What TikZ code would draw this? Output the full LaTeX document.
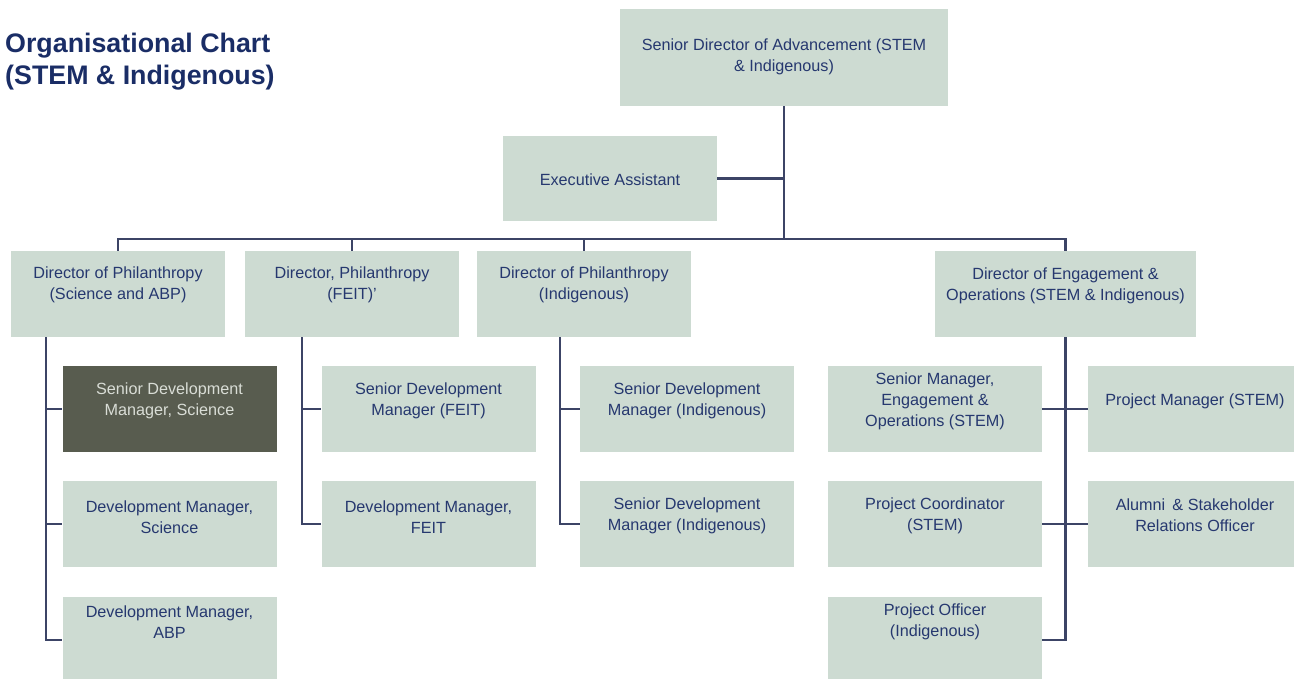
\documentclass[tikz,border=0pt]{standalone}
\usepackage{fontspec}
\setmainfont{Liberation Sans}
\usetikzlibrary{calc}
\definecolor{boxfill}{HTML}{CDDBD2}
\definecolor{darkfill}{HTML}{585C4F}
\definecolor{darktxt}{HTML}{D9DDD6}
\definecolor{txtblue}{HTML}{26386F}
\definecolor{titleblue}{HTML}{1A2D66}
\definecolor{linec}{HTML}{3C4466}
\tikzset{
  box/.style={draw=none, fill=boxfill, minimum width=#1, minimum height=86pt, inner sep=0pt},
  box/.default=214pt,
  darkbox/.style={box, fill=darkfill},
  txt/.style={text=txtblue, font=\fontsize{16.2}{21}\selectfont, align=center, inner sep=0pt},
  darktext/.style={txt, text=darktxt},
  conn/.style={draw=linec, line width=2.2pt},
}
\begin{document}
\begin{tikzpicture}[x=1pt,y=-1pt]
\useasboundingbox[fill=white] (0,0) rectangle (1294,678);

% title
\node[anchor=north west, inner sep=0pt, align=left, text=titleblue,
      font=\fontsize{26.8}{32}\selectfont\bfseries] (title) at (5,32.5)
      {Organisational Chart\\(STEM \& Indigenous)};

% top level
\node[box=328pt, minimum height=97pt] (sda) at (784,57.5) {};
\node[txt] (sdat) at (784,57) {Senior Director of Advancement (STEM\\\& Indigenous)};
\node[box, minimum height=85pt] (ea) at (610,178.5) {};
\node[txt] (eat) at (610,180) {Executive Assistant};

% directors
\node[box] (d1) at (118,294) {};
\node[txt] (d1t) at (118,284.5) {Director of Philanthropy\\(Science and ABP)};
\node[box] (d2) at (352,294) {};
\node[txt] (d2t) at (352,284.5) {Director, Philanthropy\\(FEIT)'};
\node[box] (d3) at (584,294) {};
\node[txt] (d3t) at (584,284.5) {Director of Philanthropy\\(Indigenous)};
\node[box=261pt] (d4) at (1065.5,294) {};
\node[txt] (d4t) at (1065.5,285.5) {Director of Engagement \&\\Operations (STEM \& Indigenous)};

% column 1
\node[darkbox] (c1a) at (169.5,409) {};
\node[darktext] (c1at) at (169.5,401) {Senior Development\\Manager, Science};
\node[box] (c1b) at (169.5,524) {};
\node[txt] (c1bt) at (169.5,517) {Development Manager,\\Science};
\node[box] (c1c) at (169.5,640) {};
\node[txt] (c1ct) at (169.5,622) {Development Manager,\\ABP};

% column 2
\node[box] (c2a) at (428.5,409) {};
\node[txt] (c2at) at (428.5,401) {Senior Development\\Manager (FEIT)};
\node[box] (c2b) at (428.5,524) {};
\node[txt] (c2bt) at (428.5,517) {Development Manager,\\FEIT};

% column 3
\node[box] (c3a) at (687,409) {};
\node[txt] (c3at) at (687,401) {Senior Development\\Manager (Indigenous)};
\node[box] (c3b) at (687,524) {};
\node[txt] (c3bt) at (687,515.5) {Senior Development\\Manager (Indigenous)};

% column 4
\node[box] (c4a) at (935,409) {};
\node[txt] (c4at) at (935,401.5) {Senior Manager,\\Engagement \&\\Operations (STEM)};
\node[box] (c4b) at (935,524) {};
\node[txt] (c4bt) at (935,516) {Project Coordinator\\(STEM)};
\node[box] (c4c) at (935,640) {};
\node[txt] (c4ct) at (935,622) {Project Officer\\(Indigenous)};

% column 5
\node[box=215pt] (c5a) at (1195.5,409) {};
\node[txt] (c5at) at (1195,401.5) {Project Manager (STEM)};
\node[box=215pt] (c5b) at (1195.5,524) {};
\node[txt] (c5bt) at (1195,515.5) {Alumni \,\& Stakeholder\\Relations Officer};

% connectors
\coordinate (bus) at (784,239);
\coordinate (busL) at (118,239);
\coordinate (busR) at (1065.5,239);
\draw[conn] (sda.south) -- (bus);
\draw[conn] (ea.east) -- (ea.east -| sda.south);
\draw[conn] (d1.north) -- (busL) -- (busR) -- (d4.north);
\draw[conn] (d2.north) -- (d2.north |- busL);
\draw[conn] (d3.north) -- (d3.north |- busL);

\coordinate (v1) at (46,337);
\draw[conn] (v1) |- (c1c.west);
\draw[conn] (v1 |- c1a.west) -- (c1a.west);
\draw[conn] (v1 |- c1b.west) -- (c1b.west);

\coordinate (v2) at (302,337);
\draw[conn] (v2) |- (c2b.west);
\draw[conn] (v2 |- c2a.west) -- (c2a.west);

\coordinate (v3) at (560,337);
\draw[conn] (v3) |- (c3b.west);
\draw[conn] (v3 |- c3a.west) -- (c3a.west);

\draw[conn] (d4.south) |- (c4c.east);
\draw[conn] (c4a.east) -- (c5a.west);
\draw[conn] (c4b.east) -- (c5b.west);
\end{tikzpicture}
\end{document}
